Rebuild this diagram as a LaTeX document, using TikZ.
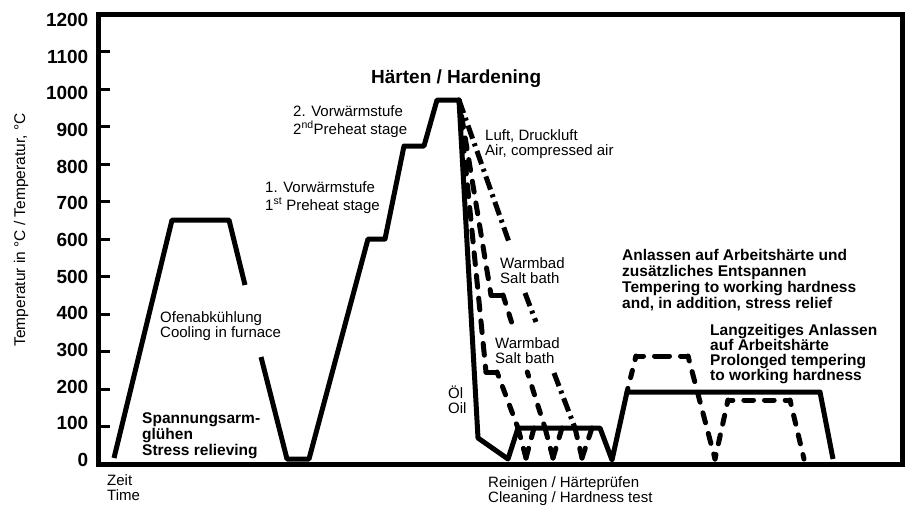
\documentclass[tikz,border=0pt]{standalone}
\usepackage{fontspec}
\setmainfont{Liberation Sans}
\newcommand\dashseg[4]{%
  \pgfmathsetmacro\seglen{veclen(#3-#1,#4-#2)}%
  \pgfmathsetmacro\segn{max(1,round(\seglen/22))}%
  \pgfmathsetmacro\segp{\seglen/\segn}%
  \pgfmathsetmacro\segd{\segp-11}%
  \pgfmathsetmacro\segg{11}%
  \pgfmathsetmacro\segph{0.5*\segd}%
  \ifdim\seglen pt<18pt
    \draw[curve, line cap=round] (#1,#2) -- (#3,#4);
  \else
    \draw[curve, line cap=round, dash pattern=on \segd pt off \segg pt, dash phase=\segph pt] (#1,#2) -- (#3,#4);
  \fi}
\begin{document}
\begin{tikzpicture}[x=1pt,y=-1pt,
  curve/.style={line width=5pt, line join=round},
  dotdashc/.style={curve, dash pattern=on 14pt off 5pt on 3pt off 5pt},
  lbl/.style={font=\fontsize{15}{15}\selectfont, align=left, inner sep=0pt, anchor=base west},
  blbl/.style={font=\bfseries\fontsize{15.5}{16}\selectfont, align=left, inner sep=0pt, anchor=base west},
  ticklbl/.style={font=\bfseries\fontsize{19}{19}\selectfont, inner sep=0pt, anchor=east}]
\useasboundingbox (0,0) rectangle (907,506);
% frame and axis
\draw[line width=5pt] (98,14) rectangle (902,464);
\foreach \t in {100,200,...,1100}
  \draw[line width=3pt] (98,{464-0.375*\t}) -- (110,{464-0.375*\t});
\foreach \t in {0,100,...,1200}
  \node[ticklbl] (t\t) at (88.5,{460-0.3667*\t}) {\t};
\node[font=\fontsize{15.5}{15.5}\selectfont, rotate=90, inner sep=0pt] (ylab) at (21,230) {Temperatur in °C / Temperatur, °C};
% stress relieving
\draw[curve] (114,458) -- (172,220) -- (229,220) -- (245,285);
\draw[curve] (261,357) -- (287,459) -- (309,459) -- (368,239) -- (385,239) -- (404,146) -- (424,146) -- (437,100) -- (459,100);
% hardening, oil + tempering
\draw[curve] (459,100) -- (478,438) -- (508,459) -- (518,428) -- (600,428) -- (612,460) -- (627,392) -- (820,392) -- (833,459);
% lower salt bath
\dashseg{459}{100}{486}{372}
\dashseg{486}{372}{497}{372}
\dashseg{497}{372}{518}{428}
\dashseg{518}{428}{526}{458}
\dashseg{526}{458}{534}{428}
% upper salt bath
\dashseg{459}{100}{491}{295}
\dashseg{491}{295}{503}{295}
\dashseg{503}{295}{511.5}{322}
\dashseg{527.3}{372}{545}{428}
\dashseg{545}{428}{553}{458}
\dashseg{553}{458}{562}{428}
% air
\draw[dotdashc] (459,100) -- (510,245);
\draw[dotdashc] (525,293) -- (536,322);
\draw[dotdashc] (554,373) -- (575,428);
\dashseg{575}{428}{582}{458}
\dashseg{582}{458}{592}{428}
% prolonged tempering
\dashseg{627}{392}{636}{356}
\dashseg{636}{356}{688}{356}
\dashseg{688}{356}{715}{459}
\dashseg{715}{459}{728}{400}
\dashseg{728}{400}{790}{400}
\dashseg{790}{400}{804}{459}
% labels (placed at the baseline of their last line)
\node[lbl] (zeit) at (107,500) {Zeit\\Time};
\node[lbl] (rein) at (488,502) {Reinigen / Härteprüfen\\Cleaning / Hardness test};
\node[blbl] (span) at (142,455) {Spannungsarm-\\glühen\\Stress relieving};
\node[lbl] (ofen) at (160,337) {Ofenabkühlung\\Cooling in furnace};
\node[lbl] (vw1) at (265,210) {1. Vorwärmstufe\\[3pt]1\textsuperscript{st} Preheat stage};
\node[lbl] (vw2) at (293,134) {2. Vorwärmstufe\\[3pt]2\textsuperscript{nd}Preheat stage};
\node[font=\bfseries\fontsize{19}{19}\selectfont, inner sep=0pt, anchor=base west] (haert) at (371,83) {Härten / Hardening};
\node[lbl] (luft) at (485,155) {Luft, Druckluft\\Air, compressed air};
\node[lbl] (wb1) at (500,283) {Warmbad\\Salt bath};
\node[lbl] (wb2) at (495,363) {Warmbad\\Salt bath};
\node[lbl] (oel) at (448,413) {Öl\\Oil};
\node[blbl] (anl) at (622,308) {Anlassen auf Arbeitshärte und\\zusätzliches Entspannen\\Tempering to working hardness\\and, in addition, stress relief};
\node[blbl, font=\bfseries\fontsize{15.5}{15}\selectfont] (lang) at (710,380) {Langzeitiges Anlassen\\auf Arbeitshärte\\Prolonged tempering\\to working hardness};
\end{tikzpicture}
\end{document}
